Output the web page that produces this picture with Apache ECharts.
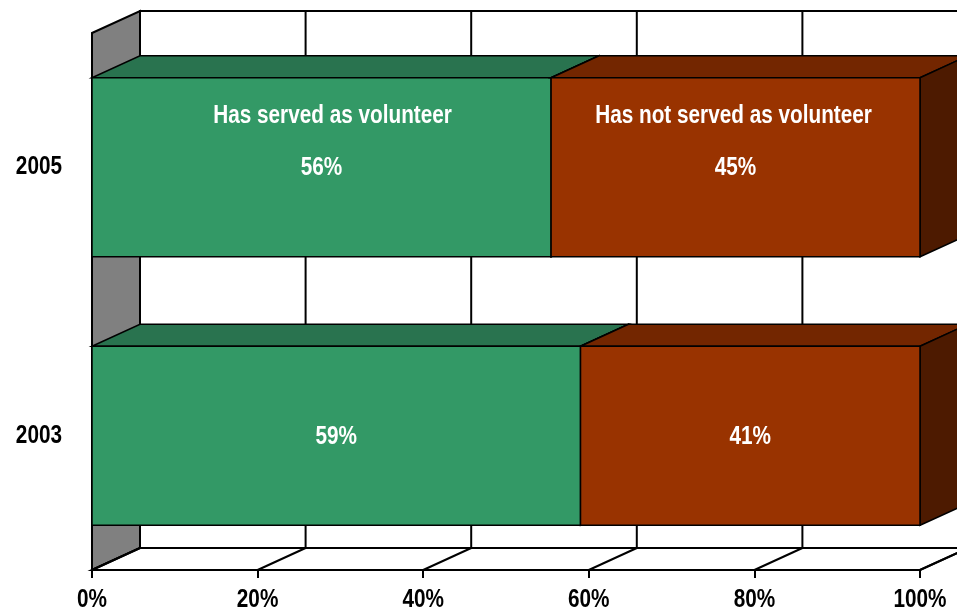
<!DOCTYPE html>
<html>
<head>
<meta charset="utf-8">
<script src="https://cdn.jsdelivr.net/npm/echarts@6/dist/echarts.min.js"></script>
<style>
  html, body { margin: 0; padding: 0; background: #ffffff; }
  #chart { width: 957px; height: 611px; }
</style>
</head>
<body>
<div id="chart"></div>
<script>
// Survey years, bottom to top on the category axis
const categories = ['2003', '2005'];
// Percent of respondents per year
const servedValues = [59, 56];
const notServedValues = [41, 45];
const seriesNames = ['Has served as volunteer', 'Has not served as volunteer'];
// Value-axis ticks (percent)
const xTicks = [0, 20, 40, 60, 80, 100];

const FONT = "'Liberation Sans', Arial, sans-serif";
const FONT_SIZE = 25;
const NARROW = 0.83;       // horizontal squeeze for the condensed lettering
const DEPTH_X = 48;        // 3D depth offset, pixels
const DEPTH_Y = -22;
const BAR_RATIO = 0.667;

const faceColors = [
  { front: '#339966', top: '#29734F', side: '#1F5C3E' },
  { front: '#993300', top: '#732600', side: '#4D1A00' }
];

// Build 100%-stacked segments: [start share, end share, category index, raw value]
function buildSegments(seriesIdx) {
  return categories.map(function (c, i) {
    const total = servedValues[i] + notServedValues[i];
    const served = servedValues[i] / total * 100;
    if (seriesIdx === 0) return [0, served, i, servedValues[i]];
    return [served, 100, i, notServedValues[i]];
  });
}

function bandEdges(api) {
  const band = api.size([0, 1])[1];
  const bottom = api.coord([0, 0])[1] + band / 2;
  const top = api.coord([0, categories.length - 1])[1] - band / 2;
  return { band: band, top: top, bottom: bottom };
}

function narrowText(text, x, y, color, align) {
  return {
    type: 'text', x: x, y: y, scaleX: NARROW,
    style: { text: text, fill: color, font: 'bold ' + FONT_SIZE + 'px ' + FONT,
      align: align || 'center', verticalAlign: 'middle' }
  };
}

const lineStyle = { stroke: '#000', lineWidth: 2 };

// Back wall, side wall and floor
function renderFrame(params, api) {
  const e = bandEdges(api);
  const left = api.coord([0, 0])[0];
  const right = api.coord([100, 0])[0];
  const dx = DEPTH_X, dy = DEPTH_Y;
  return {
    type: 'group',
    children: [
      { type: 'rect', shape: { x: left + dx, y: e.top + dy, width: right - left, height: e.bottom - e.top },
        style: { fill: '#fff', stroke: '#000', lineWidth: 2 } },
      { type: 'polygon', shape: { points: [[left, e.top], [left + dx, e.top + dy], [left + dx, e.bottom + dy], [left, e.bottom]] },
        style: { fill: '#808080', stroke: '#000', lineWidth: 2 } },
      { type: 'polygon', shape: { points: [[left, e.bottom], [left + dx, e.bottom + dy], [right + dx, e.bottom + dy], [right, e.bottom]] },
        style: { fill: '#fff', stroke: '#000', lineWidth: 2 } }
    ]
  };
}

// Grid lines on the back wall and floor, plus the tick label, at each tick
function renderGrid(params, api) {
  const e = bandEdges(api);
  const t = api.value(0);
  const x = api.coord([t, 0])[0];
  const dx = DEPTH_X, dy = DEPTH_Y;
  return {
    type: 'group',
    children: [
      { type: 'line', shape: { x1: x + dx, y1: e.top + dy, x2: x + dx, y2: e.bottom + dy }, style: lineStyle },
      { type: 'line', shape: { x1: x, y1: e.bottom, x2: x + dx, y2: e.bottom + dy }, style: lineStyle },
      narrowText(t + '%', x, e.bottom + 30, '#000')
    ]
  };
}

// Category (year) labels left of the side wall
function renderCategoryLabel(params, api) {
  const cat = api.value(0);
  const p = api.coord([0, cat]);
  return narrowText(categories[cat], p[0] - 30, p[1], '#000', 'right');
}

function makeBarRenderer(seriesIdx) {
  const colors = faceColors[seriesIdx];
  return function (params, api) {
    const start = api.value(0), end = api.value(1), cat = api.value(2), raw = api.value(3);
    const p0 = api.coord([start, cat]);
    const p1 = api.coord([end, cat]);
    const h = api.size([0, 1])[1] * BAR_RATIO;
    const x0 = p0[0], x1 = p1[0];
    const y0 = p0[1] - h / 2, y1 = p0[1] + h / 2;
    const dx = DEPTH_X, dy = DEPTH_Y;
    const edge = { stroke: '#000', lineWidth: 1.5 };
    const children = [
      { type: 'polygon', shape: { points: [[x0, y0], [x0 + dx, y0 + dy], [x1 + dx, y0 + dy], [x1, y0]] },
        style: Object.assign({ fill: colors.top }, edge) },
      { type: 'polygon', shape: { points: [[x1, y0], [x1 + dx, y0 + dy], [x1 + dx, y1 + dy], [x1, y1]] },
        style: Object.assign({ fill: colors.side }, edge) },
      { type: 'rect', shape: { x: x0, y: y0, width: x1 - x0, height: y1 - y0 },
        style: Object.assign({ fill: colors.front }, edge) },
      narrowText(raw + '%', (x0 + x1) / 2, p0[1] + 1, '#fff')
    ];
    if (cat === categories.length - 1) {
      children.push(narrowText(seriesNames[seriesIdx], (x0 + x1) / 2 + (seriesIdx === 0 ? 11 : -2), p0[1] - 51, '#fff'));
    }
    return { type: 'group', children: children };
  };
}

const chart = echarts.init(document.getElementById('chart'), null, { renderer: 'canvas' });
chart.setOption({
  animation: false,
  backgroundColor: '#ffffff',
  grid: { left: 92, right: 37, top: 33, bottom: 41, containLabel: false },
  xAxis: {
    type: 'value', min: 0, max: 100, interval: 20,
    axisLine: { show: true, lineStyle: { color: '#000', width: 2 } },
    axisTick: { show: true, length: 8, lineStyle: { color: '#000', width: 2 } },
    splitLine: { show: false },
    axisLabel: { show: false }
  },
  yAxis: {
    type: 'category', data: categories,
    axisLine: { show: false }, axisTick: { show: false },
    axisLabel: { show: false }
  },
  series: [
    { type: 'custom', name: 'frame', z: 1, silent: true, data: [[0]], renderItem: renderFrame },
    { type: 'custom', name: 'grid', z: 2, silent: true, data: xTicks.map(function (t) { return [t]; }), renderItem: renderGrid },
    { type: 'custom', name: 'years', z: 2, silent: true, data: categories.map(function (c, i) { return [i]; }),
      renderItem: renderCategoryLabel, encode: { y: 0 } },
    { type: 'custom', name: seriesNames[0], z: 3, data: buildSegments(0), renderItem: makeBarRenderer(0),
      encode: { x: [0, 1], y: 2 } },
    { type: 'custom', name: seriesNames[1], z: 4, data: buildSegments(1), renderItem: makeBarRenderer(1),
      encode: { x: [0, 1], y: 2 } }
  ]
});
</script>
</body>
</html>
